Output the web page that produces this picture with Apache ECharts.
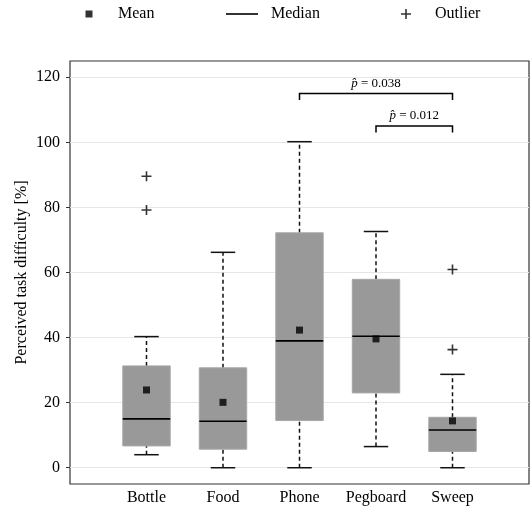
<!DOCTYPE html>
<html>
<head>
<meta charset="utf-8">
<script src="https://cdn.jsdelivr.net/npm/echarts@6/dist/echarts.min.js"></script>
<style>
  html, body { margin: 0; padding: 0; background: #fff; }
  #main { width: 530px; height: 509px; }
</style>
</head>
<body>
<div id="main"></div>
<script>
// 数据
const categories = ["Bottle", "Food", "Phone", "Pegboard", "Sweep"];
const whiskerLow = [4.0, 0, 0, 6.5, 0];
const q1 = [6.7, 5.7, 14.5, 23.0, 5.0];
const medians = [15.0, 14.3, 39.0, 40.4, 11.6];
const q3 = [31.3, 30.7, 72.2, 57.9, 15.5];
const whiskerHigh = [40.3, 66.2, 100.2, 72.6, 28.7];
const means = [23.9, 20.1, 42.3, 39.6, 14.4];
const outliers = [[1, 89.6], [1, 79.2], [5, 60.9], [5, 36.3]];
// [from, to, height, p value]
const brackets = [[3, 5, 115, "0.038"], [4, 5, 105, "0.012"]];
const yTicks = [0, 20, 40, 60, 80, 100, 120];

const FONT = "Liberation Serif";
const plusPath = "path://M4.2,0H5.8V4.2H10V5.8H5.8V10H4.2V5.8H0V4.2H4.2Z";
const halfBox = 0.31;
const halfCap = 0.16;

const boxData = categories.map((c, i) => [i + 1, whiskerLow[i], q1[i], medians[i], q3[i], whiskerHigh[i]]);
const medianData = categories.map((c, i) => [i + 1, medians[i]]);
const meanData = categories.map((c, i) => [i + 1, means[i]]);

function legendItem(left, name, icon, h) {
  return {
    left: left,
    top: 1,
    itemWidth: 32,
    itemHeight: h,
    selectedMode: false,
    data: [{ name: name, icon: icon }],
    textStyle: { fontFamily: FONT, fontSize: 16, color: "#000", padding: [0, 0, 0, 8] },
  };
}

const option = {
  animation: false,
  legend: [
    legendItem(80.5, "Mean", "path://M0,0H1V1H0Z", 7),
    legendItem(221, "Median", "path://M0,0H32V1.6H0Z", 10),
    legendItem(396, "Outlier", plusPath, 10),
  ],
  grid: {
    left: 70,
    right: 1,
    top: 61,
    bottom: 25,
    show: true,
    borderColor: "#333",
    borderWidth: 1.2,
  },
  xAxis: {
    type: "value",
    min: 0,
    max: 6,
    axisLine: { show: false },
    axisTick: { show: false },
    splitLine: { show: false },
    axisLabel: {
      customValues: [1, 2, 3, 4, 5],
      formatter: (v) => categories[Math.round(v) - 1] || "",
      fontFamily: FONT,
      fontSize: 16,
      color: "#000",
      margin: 6,
    },
  },
  yAxis: {
    type: "value",
    min: -5,
    max: 125,
    name: "Perceived task difficulty [%]",
    nameLocation: "middle",
    nameGap: 40,
    nameMoveOverlap: false,
    nameTextStyle: { fontFamily: FONT, fontSize: 16, color: "#000" },
    axisLine: { show: false },
    axisTick: { show: true, customValues: yTicks, length: 4, lineStyle: { color: "#333" } },
    axisLabel: {
      customValues: yTicks,
      fontFamily: FONT,
      fontSize: 16,
      color: "#000",
      margin: 10,
    },
    splitLine: { show: true, lineStyle: { color: "#e6e6e6", width: 1 } },
  },
  series: [
    {
      // 箱体 + 须
      type: "custom",
      data: boxData,
      z: 2,
      renderItem: (params, api) => {
        const x = api.value(0);
        const lo = api.coord([x, api.value(1)]);
        const b1 = api.coord([x - halfBox, api.value(2)]);
        const b3 = api.coord([x + halfBox, api.value(4)]);
        const hi = api.coord([x, api.value(5)]);
        const capL = api.coord([x - halfCap, 0])[0];
        const capR = api.coord([x + halfCap, 0])[0];
        const dash = { stroke: "#111", lineWidth: 1.5, lineDash: [4, 3] };
        const solid = { stroke: "#111", lineWidth: 1.5 };
        return {
          type: "group",
          children: [
            { type: "line", shape: { x1: lo[0], y1: lo[1], x2: lo[0], y2: b1[1] }, style: dash },
            { type: "line", shape: { x1: hi[0], y1: b3[1], x2: hi[0], y2: hi[1] }, style: dash },
            { type: "line", shape: { x1: capL, y1: lo[1], x2: capR, y2: lo[1] }, style: solid },
            { type: "line", shape: { x1: capL, y1: hi[1], x2: capR, y2: hi[1] }, style: solid },
            {
              type: "rect",
              shape: { x: b1[0], y: b3[1], width: b3[0] - b1[0], height: b1[1] - b3[1] },
              style: { fill: "#999999", stroke: "#a8a8a8", lineWidth: 1 },
            },
          ],
        };
      },
    },
    {
      name: "Median",
      type: "custom",
      data: medianData,
      z: 3,
      itemStyle: { color: "#000" },
      renderItem: (params, api) => {
        const a = api.coord([api.value(0) - halfBox, api.value(1)]);
        const b = api.coord([api.value(0) + halfBox, api.value(1)]);
        return {
          type: "line",
          shape: { x1: a[0], y1: a[1], x2: b[0], y2: b[1] },
          style: { stroke: "#000", lineWidth: 1.6 },
        };
      },
    },
    {
      name: "Mean",
      type: "scatter",
      data: meanData,
      symbol: "rect",
      symbolSize: 7,
      z: 4,
      itemStyle: { color: "#000" },
    },
    {
      name: "Outlier",
      type: "scatter",
      data: outliers,
      symbol: plusPath,
      symbolSize: 10,
      z: 4,
      itemStyle: { color: "#000" },
    },
    {
      // 显著性括号
      type: "custom",
      data: brackets,
      z: 5,
      renderItem: (params, api) => {
        const x1 = api.value(0);
        const x2 = api.value(1);
        const h = api.value(2);
        const p = brackets[params.dataIndex][3];
        const a = api.coord([x1, h]);
        const b = api.coord([x2, h]);
        const drop = api.coord([x1, h - 2])[1];
        const mid = api.coord([(x1 + x2) / 2, h + 1.2]);
        return {
          type: "group",
          children: [
            {
              type: "polyline",
              shape: { points: [[a[0], drop], a, b, [b[0], drop]] },
              style: { stroke: "#000", lineWidth: 1.5, fill: null },
            },
            {
              type: "text",
              x: mid[0],
              y: mid[1],
              style: {
                text: "{i|p\u0302}{n| = " + p + "}",
                align: "center",
                verticalAlign: "bottom",
                rich: {
                  i: { fontFamily: FONT, fontStyle: "italic", fontSize: 13, fill: "#000" },
                  n: { fontFamily: FONT, fontSize: 13, fill: "#000" },
                },
              },
            },
          ],
        };
      },
    },
  ],
};

const myChart = echarts.init(document.getElementById("main"));
myChart.setOption(option);
</script>
</body>
</html>
